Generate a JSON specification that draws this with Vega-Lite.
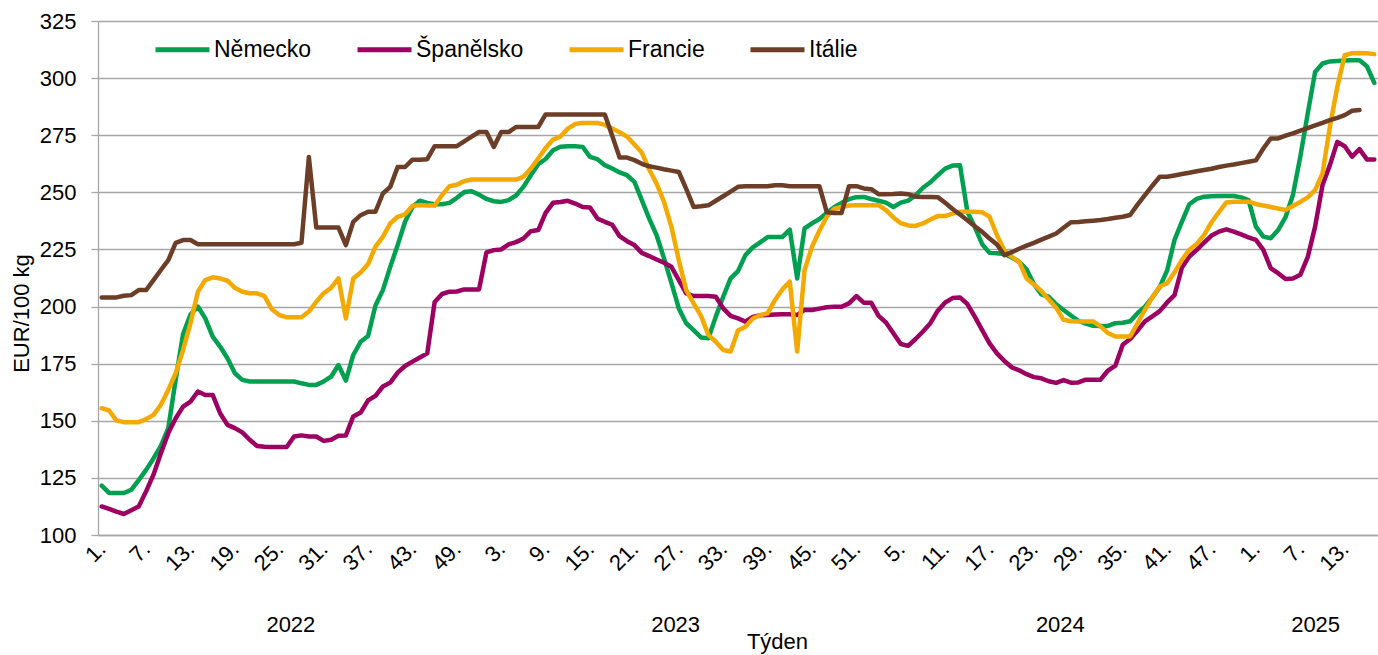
{
"$schema": "https://vega.github.io/schema/vega-lite/v6.json",
"width": 1280,
"height": 514,
"autosize": {"type": "none"},
"padding": {"left": 98, "top": 21, "right": 0, "bottom": 120},
"background": "white",
"config": {"font": "Liberation Sans", "view": {"stroke": null}},
"data": {"values": [
{"t":0,"Německo":121.6,"Španělsko":112.5,"Francie":155.5,"Itálie":204},
{"t":1,"Německo":118.4,"Španělsko":111.4,"Francie":154.5,"Itálie":204},
{"t":2,"Německo":118.4,"Španělsko":110.2,"Francie":150.1,"Itálie":204},
{"t":3,"Německo":118.4,"Španělsko":109.2,"Francie":149.4,"Itálie":204.7},
{"t":4,"Německo":119.8,"Španělsko":110.8,"Francie":149.4,"Itálie":205},
{"t":5,"Německo":124,"Španělsko":112.5,"Francie":149.4,"Itálie":207.2},
{"t":6,"Německo":128.5,"Španělsko":119.1,"Francie":150.7,"Itálie":207.2},
{"t":7,"Německo":133.5,"Španělsko":126.4,"Francie":152.6,"Itálie":211.6},
{"t":8,"Německo":139,"Španělsko":135.8,"Francie":157,"Itálie":216},
{"t":9,"Německo":146.8,"Španělsko":144.6,"Francie":163.5,"Itálie":220.3},
{"t":10,"Německo":168,"Španělsko":151.1,"Francie":170.8,"Itálie":227.9},
{"t":11,"Německo":188,"Španělsko":156.2,"Francie":181,"Itálie":229.1},
{"t":12,"Německo":196.5,"Španělsko":158.4,"Francie":192.7,"Itálie":229.1},
{"t":13,"Německo":200,"Španělsko":162.8,"Francie":206.5,"Itálie":227.3},
{"t":14,"Německo":194.8,"Španělsko":161.3,"Francie":211.6,"Itálie":227.3},
{"t":15,"Německo":186.8,"Španělsko":161.3,"Francie":212.8,"Itálie":227.3},
{"t":16,"Německo":182.5,"Španělsko":153.3,"Francie":212.3,"Itálie":227.3},
{"t":17,"Německo":177.4,"Španělsko":148.2,"Francie":211.3,"Itálie":227.3},
{"t":18,"Německo":170.8,"Španělsko":146.8,"Francie":208.2,"Itálie":227.3},
{"t":19,"Německo":167.9,"Španělsko":144.9,"Francie":206.5,"Itálie":227.3},
{"t":20,"Německo":167.2,"Španělsko":141.7,"Francie":205.8,"Itálie":227.3},
{"t":21,"Německo":167.2,"Španělsko":139,"Francie":205.8,"Itálie":227.3},
{"t":22,"Německo":167.2,"Španělsko":138.6,"Francie":204.6,"Itálie":227.3},
{"t":23,"Německo":167.2,"Španělsko":138.5,"Francie":198.8,"Itálie":227.3},
{"t":24,"Německo":167.2,"Španělsko":138.5,"Francie":196.3,"Itálie":227.3},
{"t":25,"Německo":167.2,"Španělsko":138.5,"Francie":195.3,"Itálie":227.3},
{"t":26,"Německo":167.2,"Španělsko":143.1,"Francie":195.3,"Itálie":227.3},
{"t":27,"Německo":166.4,"Španělsko":143.6,"Francie":195.3,"Itálie":227.9},
{"t":28,"Německo":165.7,"Španělsko":143.1,"Francie":197.8,"Itálie":265.5},
{"t":29,"Německo":165.7,"Španělsko":143.1,"Francie":202.1,"Itálie":234.6},
{"t":30,"Německo":167.2,"Španělsko":141.2,"Francie":205.8,"Itálie":234.6},
{"t":31,"Německo":169.3,"Španělsko":141.7,"Francie":208.2,"Itálie":234.6},
{"t":32,"Německo":174.4,"Španělsko":143.4,"Francie":212.3,"Itálie":234.6},
{"t":33,"Německo":167.6,"Španělsko":143.6,"Francie":194.8,"Itálie":226.9},
{"t":34,"Německo":178.8,"Španělsko":151.9,"Francie":212.3,"Itálie":237.1},
{"t":35,"Německo":184.6,"Španělsko":153.6,"Francie":214.9,"Itálie":240},
{"t":36,"Německo":187.1,"Španělsko":158.9,"Francie":218.6,"Itálie":241.5},
{"t":37,"Německo":200.5,"Španělsko":160.9,"Francie":226.2,"Itálie":241.5},
{"t":38,"Německo":207.2,"Španělsko":165,"Francie":230.5,"Itálie":249.5},
{"t":39,"Německo":217.4,"Španělsko":166.7,"Francie":236.4,"Itálie":252.4},
{"t":40,"Německo":226.9,"Španělsko":171.1,"Francie":239.3,"Itálie":261.1},
{"t":41,"Německo":237.1,"Španělsko":174,"Francie":240.4,"Itálie":261.1},
{"t":42,"Německo":243.6,"Španělsko":175.9,"Francie":244.1,"Itálie":264.3},
{"t":43,"Německo":246.3,"Španělsko":177.7,"Francie":244.4,"Itálie":264.3},
{"t":44,"Německo":245.4,"Španělsko":179.5,"Francie":244.2,"Itálie":264.5},
{"t":45,"Německo":244.8,"Španělsko":202,"Francie":244.2,"Itálie":270.2},
{"t":46,"Německo":244.8,"Španělsko":205.5,"Francie":248.8,"Itálie":270.2},
{"t":47,"Německo":245.4,"Španělsko":206.5,"Francie":252.7,"Itálie":270.2},
{"t":48,"Německo":247.6,"Španělsko":206.6,"Francie":253.3,"Itálie":270.2},
{"t":49,"Německo":250.1,"Španělsko":207.5,"Francie":254.9,"Itálie":272.3},
{"t":50,"Německo":250.5,"Španělsko":207.5,"Francie":255.6,"Itálie":274.4},
{"t":51,"Německo":249,"Španělsko":207.5,"Francie":255.6,"Itálie":276.4},
{"t":52,"Německo":247.1,"Španělsko":223.7,"Francie":255.6,"Itálie":276.4},
{"t":53,"Německo":246.1,"Španělsko":224.7,"Francie":255.6,"Itálie":269.9},
{"t":54,"Německo":245.8,"Španělsko":225,"Francie":255.6,"Itálie":276.4},
{"t":55,"Německo":246.6,"Španělsko":227.2,"Francie":255.6,"Itálie":276.4},
{"t":56,"Německo":248.6,"Španělsko":228.2,"Francie":255.6,"Itálie":278.6},
{"t":57,"Německo":252.4,"Španělsko":229.8,"Francie":256.8,"Itálie":278.6},
{"t":58,"Německo":257.5,"Španělsko":233,"Francie":260.4,"Itálie":278.6},
{"t":59,"Německo":262.3,"Španělsko":233.5,"Francie":264.8,"Itálie":278.6},
{"t":60,"Německo":264.6,"Španělsko":241,"Francie":269.4,"Itálie":284.1},
{"t":61,"Německo":268.4,"Španělsko":245.4,"Francie":273.1,"Itálie":284.1},
{"t":62,"Německo":270,"Španělsko":245.8,"Francie":274.4,"Itálie":284.1},
{"t":63,"Německo":270.2,"Španělsko":246.3,"Francie":277.9,"Itálie":284.1},
{"t":64,"Německo":270.2,"Španělsko":245.1,"Francie":279.9,"Itálie":284.1},
{"t":65,"Německo":269.9,"Španělsko":243.6,"Francie":280.4,"Itálie":284.1},
{"t":66,"Německo":265.5,"Španělsko":243.4,"Francie":280.4,"Itálie":284.1},
{"t":67,"Německo":264.5,"Španělsko":238.5,"Francie":280.4,"Itálie":284.1},
{"t":68,"Německo":261.9,"Španělsko":237.1,"Francie":279.5,"Itálie":284.1},
{"t":69,"Německo":260.4,"Španělsko":235.8,"Francie":277.9,"Itálie":274.8},
{"t":70,"Německo":258.7,"Španělsko":230.8,"Francie":276.3,"Itálie":265.2},
{"t":71,"Německo":257.5,"Španělsko":228.6,"Francie":274.4,"Itálie":265.2},
{"t":72,"Německo":254.6,"Španělsko":226.9,"Francie":270.9,"Itálie":264.1},
{"t":73,"Německo":246.6,"Španělsko":223.5,"Francie":267.4,"Itálie":262.5},
{"t":74,"Německo":238.5,"Španělsko":222.1,"Francie":260,"Itálie":261.4},
{"t":75,"Německo":231.2,"Španělsko":220.6,"Francie":253.8,"Itálie":260.8},
{"t":76,"Německo":221.1,"Španělsko":219.2,"Francie":245.8,"Itálie":260.1},
{"t":77,"Německo":210.4,"Španělsko":217.4,"Francie":234.9,"Itálie":259.5},
{"t":78,"Německo":199.2,"Španělsko":211.6,"Francie":220.3,"Itálie":258.9},
{"t":79,"Německo":192.7,"Španělsko":205.8,"Francie":207.2,"Itálie":251.5},
{"t":80,"Německo":189.7,"Španělsko":204.6,"Francie":201.4,"Itálie":243.6},
{"t":81,"Německo":186.5,"Španělsko":204.6,"Francie":195.9,"Itálie":243.9},
{"t":82,"Německo":186.1,"Španělsko":204.6,"Francie":187.6,"Itálie":244.3},
{"t":83,"Německo":195.6,"Španělsko":204.3,"Francie":184.6,"Itálie":246.3},
{"t":84,"Německo":204.3,"Španělsko":199.2,"Francie":181,"Itálie":248.3},
{"t":85,"Německo":212.3,"Španělsko":195.9,"Francie":180.3,"Itálie":250.3},
{"t":86,"Německo":215.5,"Španělsko":194.8,"Francie":189.5,"Itálie":252.4},
{"t":87,"Německo":222.5,"Španělsko":193.4,"Francie":191.2,"Itálie":252.7},
{"t":88,"Německo":225.9,"Španělsko":195.5,"Francie":194.8,"Itálie":252.7},
{"t":89,"Německo":228.1,"Španělsko":196.2,"Francie":196.3,"Itálie":252.7},
{"t":90,"Německo":230.4,"Španělsko":196.3,"Francie":197,"Itálie":252.7},
{"t":91,"Německo":230.5,"Španělsko":196.5,"Francie":202.9,"Itálie":253.1},
{"t":92,"Německo":230.5,"Španělsko":196.6,"Francie":207.5,"Itálie":253.1},
{"t":93,"Německo":233.7,"Španělsko":196.6,"Francie":210.9,"Itálie":252.7},
{"t":94,"Německo":212.3,"Španělsko":196.3,"Francie":180.3,"Itálie":252.7},
{"t":95,"Německo":234.2,"Španělsko":198.5,"Francie":216,"Itálie":252.7},
{"t":96,"Německo":236.4,"Španělsko":198.5,"Francie":226.2,"Itálie":252.7},
{"t":97,"Německo":238.3,"Španělsko":199.1,"Francie":233.2,"Itálie":252.7},
{"t":98,"Německo":241,"Španělsko":199.7,"Francie":239.3,"Itálie":241.3},
{"t":99,"Německo":243.5,"Španělsko":199.9,"Francie":242.8,"Itálie":241},
{"t":100,"Německo":245.4,"Španělsko":199.9,"Francie":243.6,"Itálie":241},
{"t":101,"Německo":247,"Španělsko":201.4,"Francie":244.2,"Itálie":252.7},
{"t":102,"Německo":247.9,"Španělsko":204.6,"Francie":244.4,"Itálie":252.7},
{"t":103,"Německo":248,"Španělsko":201.7,"Francie":244.4,"Itálie":251.7},
{"t":104,"Německo":247.1,"Španělsko":201.7,"Francie":244.4,"Itálie":251.4},
{"t":105,"Německo":246.3,"Španělsko":195.9,"Francie":244.4,"Itálie":249.2},
{"t":106,"Německo":245.5,"Španělsko":193,"Francie":242.2,"Itálie":249.2},
{"t":107,"Německo":243.6,"Španělsko":188.3,"Francie":239,"Itálie":249.3},
{"t":108,"Německo":245.5,"Španělsko":183.6,"Francie":236.5,"Itálie":249.5},
{"t":109,"Německo":246.4,"Španělsko":182.8,"Francie":235.5,"Itálie":249.2},
{"t":110,"Německo":248.7,"Španělsko":185.8,"Francie":235.3,"Itálie":248.1},
{"t":111,"Německo":252,"Španělsko":189.1,"Francie":236.4,"Itálie":248},
{"t":112,"Německo":254.4,"Španělsko":192.7,"Francie":238.1,"Itálie":248},
{"t":113,"Německo":257.5,"Španělsko":198.2,"Francie":239.6,"Itálie":247.9},
{"t":114,"Německo":260.4,"Španělsko":201.8,"Francie":239.6,"Itálie":245.4},
{"t":115,"Německo":261.7,"Španělsko":203.7,"Francie":240.7,"Itálie":242.7},
{"t":116,"Německo":261.9,"Španělsko":204,"Francie":241.5,"Itálie":240.3},
{"t":117,"Německo":241.5,"Španělsko":201.1,"Francie":241.5,"Itálie":237.8},
{"t":118,"Německo":234.9,"Španělsko":195.6,"Francie":241.5,"Itálie":235.2},
{"t":119,"Německo":227.3,"Španělsko":189.7,"Francie":241.3,"Itálie":232.7},
{"t":120,"Německo":223.5,"Španělsko":183.9,"Francie":239.3,"Itálie":229.8},
{"t":121,"Německo":223.3,"Španělsko":179.5,"Francie":231.2,"Itálie":227.2},
{"t":122,"Německo":223,"Španělsko":176.2,"Francie":224.7,"Itálie":222.5},
{"t":123,"Německo":221.5,"Španělsko":173.4,"Francie":221.8,"Itálie":223.8},
{"t":124,"Německo":219.6,"Španělsko":172.1,"Francie":219.6,"Itálie":225.3},
{"t":125,"Německo":216.3,"Španělsko":170.4,"Francie":212.3,"Itálie":226.7},
{"t":126,"Německo":209.8,"Španělsko":169.1,"Francie":209.7,"Itálie":227.9},
{"t":127,"Německo":205.3,"Španělsko":168.6,"Francie":206.8,"Itálie":229.3},
{"t":128,"Německo":204.3,"Španělsko":167.3,"Francie":203.1,"Itálie":230.6},
{"t":129,"Německo":201,"Španělsko":166.6,"Francie":199.5,"Itálie":232},
{"t":130,"Německo":198.5,"Španělsko":167.8,"Francie":194.2,"Itálie":234.5},
{"t":131,"Německo":196.1,"Španělsko":166.7,"Francie":193.6,"Itálie":236.9},
{"t":132,"Německo":193.8,"Španělsko":166.8,"Francie":193.5,"Itálie":237},
{"t":133,"Německo":192.5,"Španělsko":168,"Francie":193.5,"Itálie":237.3},
{"t":134,"Německo":191.6,"Španělsko":168,"Francie":193.5,"Itálie":237.6},
{"t":135,"Německo":191.5,"Španělsko":168,"Francie":191.3,"Itálie":237.9},
{"t":136,"Německo":191.5,"Španělsko":172,"Francie":188.4,"Itálie":238.3},
{"t":137,"Německo":192.7,"Španělsko":174.1,"Francie":186.9,"Itálie":238.9},
{"t":138,"Německo":192.9,"Španělsko":183.3,"Francie":186.9,"Itálie":239.3},
{"t":139,"Německo":193.6,"Španělsko":185.8,"Francie":186.9,"Itálie":240.1},
{"t":140,"Německo":197.1,"Španělsko":189.5,"Francie":192.7,"Itálie":244.6},
{"t":141,"Německo":200,"Španělsko":193.5,"Francie":198.6,"Itálie":248.8},
{"t":142,"Německo":204,"Španělsko":195.7,"Francie":204,"Itálie":252.9},
{"t":143,"Německo":208.5,"Španělsko":198,"Francie":208.8,"Itálie":256.8},
{"t":144,"Německo":215.8,"Španělsko":201.8,"Francie":210.2,"Itálie":256.8},
{"t":145,"Německo":229.2,"Španělsko":205,"Francie":215,"Itálie":257.4},
{"t":146,"Německo":237.2,"Španělsko":217.1,"Francie":220.4,"Itálie":258},
{"t":147,"Německo":244.8,"Španělsko":221.9,"Francie":224.9,"Itálie":258.6},
{"t":148,"Německo":247.1,"Španělsko":224.8,"Francie":227.4,"Itálie":259.2},
{"t":149,"Německo":248.1,"Španělsko":228,"Francie":231.4,"Itálie":259.8},
{"t":150,"Německo":248.3,"Španělsko":231.1,"Francie":236.9,"Itálie":260.3},
{"t":151,"Německo":248.4,"Španělsko":232.8,"Francie":241.3,"Itálie":261.1},
{"t":152,"Německo":248.4,"Španělsko":233.8,"Francie":245.6,"Itálie":261.7},
{"t":153,"Německo":248.4,"Španělsko":232.8,"Francie":245.9,"Itálie":262.2},
{"t":154,"Německo":247.8,"Španělsko":231.6,"Francie":245.9,"Itálie":262.8},
{"t":155,"Německo":246.6,"Španělsko":230.3,"Francie":245.9,"Itálie":263.4},
{"t":156,"Německo":235,"Španělsko":229.2,"Francie":244.9,"Itálie":264},
{"t":157,"Německo":230.6,"Španělsko":224.8,"Francie":244.2,"Itálie":269.2},
{"t":158,"Německo":229.9,"Španělsko":216.8,"Francie":243.6,"Itálie":273.6},
{"t":159,"Německo":233.5,"Španělsko":214.6,"Francie":242.9,"Itálie":273.6},
{"t":160,"Německo":239.1,"Španělsko":212.1,"Francie":242.3,"Itálie":274.8},
{"t":161,"Německo":248.8,"Španělsko":212.3,"Francie":244,"Itálie":275.8},
{"t":162,"Německo":265.6,"Španělsko":213.9,"Francie":245.8,"Itálie":277},
{"t":163,"Německo":284.5,"Španělsko":221.6,"Francie":247.8,"Itálie":278.1},
{"t":164,"Německo":302.7,"Španělsko":235,"Francie":251,"Itálie":279.3},
{"t":165,"Německo":306.4,"Španělsko":253.2,"Francie":258.3,"Itálie":280.4},
{"t":166,"Německo":307.3,"Španělsko":261.9,"Francie":278.7,"Itálie":281.6},
{"t":167,"Německo":307.5,"Španělsko":272.1,"Francie":296.2,"Itálie":282.6},
{"t":168,"Německo":307.7,"Španělsko":270.2,"Francie":310,"Itálie":283.8},
{"t":169,"Německo":307.8,"Španělsko":265.6,"Francie":310.9,"Itálie":285.7},
{"t":170,"Německo":307.8,"Španělsko":268.9,"Francie":311,"Itálie":286},
{"t":171,"Německo":305.2,"Španělsko":264.4,"Francie":310.9,"Itálie":null},
{"t":172,"Německo":297.9,"Španělsko":264.4,"Francie":310.5,"Itálie":null}
]},
"transform": [
{"fold": ["Německo", "Španělsko", "Francie", "Itálie"], "as": ["zeme", "cena"]},
{"filter": "isValid(datum.cena)"}
],
"layer": [
{
"mark": {"type": "line", "strokeWidth": 4.5, "strokeCap": "round", "strokeJoin": "round"},
"encoding": {
"x": {"field": "t", "type": "quantitative",
"scale": {"domain": [-0.5, 172.5], "nice": false, "zero": false},
"axis": {"values": [0,6,12,18,24,30,36,42,48,54,60,66,72,78,84,90,96,102,108,114,120,126,132,138,144,150,156,162,168],
"labelExpr": "(datum.value < 52 ? datum.value + 1 : datum.value < 104 ? datum.value - 51 : datum.value < 156 ? datum.value - 103 : datum.value - 155) + '.'",
"labelAngle": -45, "labelAlign": "right", "labelBaseline": "middle", "labelPadding": 10,
"labelFontSize": 22, "labelColor": "#000000", "labelOverlap": false, "labelFlush": false,
"ticks": false, "tickSize": 0, "grid": false,
"domainColor": "#A6A6A6", "domainWidth": 1.3, "title": null}},
"y": {"field": "cena", "type": "quantitative",
"scale": {"domain": [100, 325], "nice": false, "zero": false},
"axis": {"values": [100,125,150,175,200,225,250,275,300,325],
"title": "EUR/100 kg", "titleFontSize": 22, "titleFontWeight": "normal", "titleColor": "#000000",
"titlePadding": 6, "titleY": 292,
"labelFontSize": 22, "labelColor": "#000000", "labelPadding": 15,
"tickSize": 7, "tickColor": "#A6A6A6", "tickWidth": 1.3,
"gridColor": "#A6A6A6", "gridWidth": 1.3,
"domainColor": "#A6A6A6", "domainWidth": 1.3}},
"color": {"field": "zeme", "type": "nominal",
"sort": ["Německo", "Španělsko", "Francie", "Itálie"],
"scale": {"domain": ["Německo", "Španělsko", "Francie", "Itálie"], "range": ["#00A050", "#9C0060", "#F4A900", "#6C3E28"]},
"legend": {"orient": "none", "legendX": 55, "legendY": -1, "direction": "horizontal", "title": null,
"symbolType": "stroke", "symbolSize": 2916, "symbolStrokeWidth": 5,
"labelFontSize": 23, "labelColor": "#000000", "labelOffset": 2, "columnPadding": 35, "padding": 0, "labelLimit": 400}}
}
},
{
"mark": {"type": "point", "opacity": 0},
"encoding": {
"x": {"field": "t", "type": "quantitative",
"scale": {"domain": [-0.5, 172.5], "nice": false, "zero": false},
"axis": {"orient": "bottom", "values": [25.5, 77.5, 129.5, 164],
"labelExpr": "datum.value < 52 ? '2022' : datum.value < 104 ? '2023' : datum.value < 156 ? '2024' : '2025'",
"labelAngle": 0, "labelAlign": "center", "labelBaseline": "middle", "labelPadding": 89,
"labelFontSize": 22, "labelColor": "#000000",
"domain": false, "ticks": false, "tickSize": 0, "grid": false,
"title": "Týden", "titleFontSize": 22, "titleFontWeight": "normal", "titleColor": "#000000",
"titleX": 679, "titleY": 106, "titleBaseline": "middle", "titleAlign": "center"}},
"y": {"field": "cena", "type": "quantitative"}
}
}
],
"resolve": {"axis": {"x": "independent"}}
}
